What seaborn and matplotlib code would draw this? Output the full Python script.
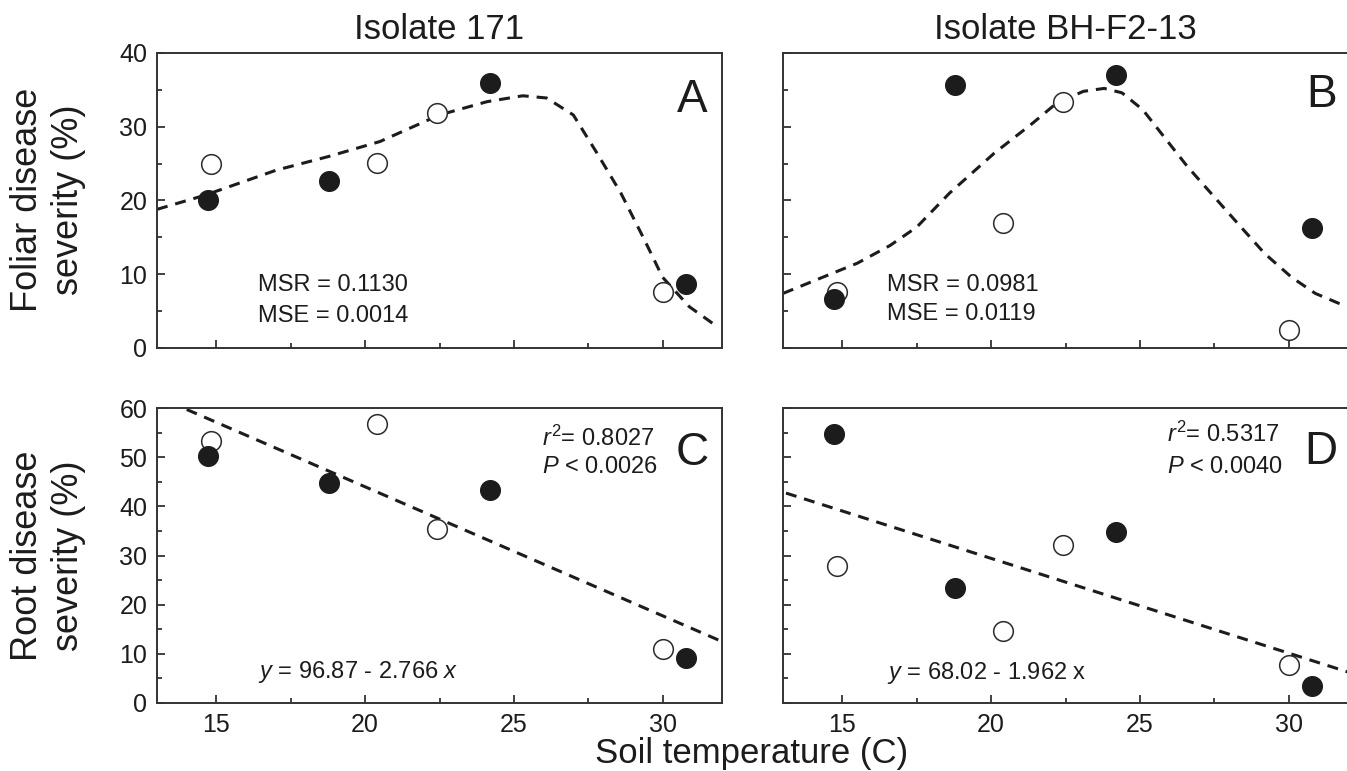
import numpy as np
import pandas as pd
import matplotlib.pyplot as plt
from matplotlib.ticker import MultipleLocator
import seaborn as sns

sns.set_style('ticks')
plt.rcParams['font.family'] = ['Liberation Sans', 'DejaVu Sans']
plt.rcParams['mathtext.fontset'] = 'custom'
plt.rcParams['mathtext.rm'] = 'Liberation Sans'
plt.rcParams['mathtext.it'] = 'Liberation Sans:italic'

# soil temperatures (C) for the two symbol series
temp_filled = [14.7, 18.8, 24.2, 30.8]
temp_open = [14.8, 20.4, 22.4, 30.0]

# foliar disease severity (%)
foliar_171_filled = [20.0, 22.7, 36.0, 8.7]
foliar_171_open = [24.9, 25.1, 31.8, 7.6]
foliar_bh_filled = [6.7, 35.6, 37.0, 16.3]
foliar_bh_open = [7.6, 16.9, 33.4, 2.4]

# root disease severity (%)
root_171_filled = [50.3, 44.7, 43.4, 9.2]
root_171_open = [53.3, 56.7, 35.3, 11.0]
root_bh_filled = [54.8, 23.4, 34.7, 3.4]
root_bh_open = [27.9, 14.6, 32.1, 7.7]

# fitted curves
fit_a_x = [13.0, 14.6, 17.0, 18.8, 20.5, 22.5, 24.1, 25.3, 26.1, 27.0, 27.8, 28.6, 29.4, 30.0, 30.9, 31.7]
fit_a_y = [18.8, 20.7, 24.1, 26.0, 28.0, 31.6, 33.4, 34.2, 33.9, 31.6, 26.4, 21.0, 14.6, 9.6, 5.6, 3.3]
fit_b_x = [13.0, 14.4, 15.5, 16.6, 17.5, 18.6, 20.1, 21.4, 22.2, 23.1, 23.8, 24.4, 25.1, 25.8, 26.6, 27.5, 28.4, 29.2, 30.1, 30.9, 31.9]
fit_b_y = [7.4, 9.7, 11.5, 13.9, 16.4, 21.0, 26.4, 30.5, 33.2, 34.8, 35.2, 34.6, 32.3, 28.7, 24.6, 20.5, 16.4, 12.8, 9.6, 7.4, 5.7]
fit_c_x = [14.0, 32.0]
fit_c_y = [59.7, 12.5]
fit_d_x = [13.1, 32.0]
fit_d_y = [42.7, 6.3]

ink = '#1c1c1c'

fig = plt.figure(figsize=(13.47, 7.71), dpi=100)
W, H = 1347, 771


def make_ax(left, top, right, bottom):
    return fig.add_axes([left / W, 1 - bottom / H, (right - left) / W, (bottom - top) / H])


ax_a = make_ax(157, 53, 722, 348)
ax_b = make_ax(783, 53, 1348, 348)
ax_c = make_ax(157, 408, 722, 703)
ax_d = make_ax(783, 408, 1348, 703)


def panel(ax, filled, opened, fx, fy, ymax, letter, letter_xy):
    sns.lineplot(x=fx, y=fy, ax=ax, color=ink, linewidth=2.2,
                 linestyle=(0, (3.6, 2.6)), errorbar=None, zorder=2)
    df_f = pd.DataFrame({'temp': temp_filled, 'sev': filled})
    df_o = pd.DataFrame({'temp': temp_open, 'sev': opened})
    sns.scatterplot(data=df_o, x='temp', y='sev', ax=ax, s=200, color='white',
                    edgecolor='#2a2a2a', linewidth=1.1, zorder=3)
    sns.scatterplot(data=df_f, x='temp', y='sev', ax=ax, s=200, color=ink,
                    edgecolor=ink, linewidth=1.0, zorder=4)
    ax.set_xlim(13, 32)
    ax.set_ylim(0, ymax)
    ax.set_xticks([15, 20, 25, 30])
    ax.xaxis.set_minor_locator(MultipleLocator(2.5))
    ax.set_yticks(np.arange(0, ymax + 1, 10))
    ax.yaxis.set_minor_locator(MultipleLocator(5))
    ax.tick_params(which='both', direction='in', top=False, right=False,
                   width=1.3, color='#333333', labelsize=18, labelcolor=ink, pad=7)
    ax.tick_params(which='major', length=6)
    ax.tick_params(which='minor', length=3.5)
    for sp in ax.spines.values():
        sp.set_linewidth(1.4)
        sp.set_color('#333333')
    ax.set_xlabel('')
    ax.set_ylabel('')
    ax.text(letter_xy[0], letter_xy[1], letter, fontsize=33, color=ink,
            ha='center', va='center')


panel(ax_a, foliar_171_filled, foliar_171_open, fit_a_x, fit_a_y, 40, 'A', (31.0, 33.6))
panel(ax_b, foliar_bh_filled, foliar_bh_open, fit_b_x, fit_b_y, 40, 'B', (31.1, 34.3))
panel(ax_c, root_171_filled, root_171_open, fit_c_x, fit_c_y, 60, 'C', (31.0, 50.8))
panel(ax_d, root_bh_filled, root_bh_open, fit_d_x, fit_d_y, 60, 'D', (31.1, 51.0))

for ax in (ax_a, ax_b):
    ax.tick_params(labelbottom=False)
for ax in (ax_b, ax_d):
    ax.tick_params(labelleft=False)

note = dict(fontsize=17, color=ink, ha='left', va='center')
ax_a.text(16.4, 8.5, 'MSR = 0.1130', **note)
ax_a.text(16.4, 4.4, 'MSE = 0.0014', **note)
ax_b.text(16.5, 8.5, 'MSR = 0.0981', **note)
ax_b.text(16.5, 4.6, 'MSE = 0.0119', **note)
ax_c.text(25.95, 53.9, r'$r^2$= 0.8027', **note)
ax_c.text(25.95, 48.1, r'$P$ < 0.0026', **note)
ax_c.text(16.4, 6.4, r'$y$ = 96.87 - 2.766 $x$', **note)
ax_d.text(25.9, 54.6, r'$r^2$= 0.5317', **note)
ax_d.text(25.9, 48.1, r'$P$ < 0.0040', **note)
ax_d.text(16.5, 6.1, r'$y$ = 68.02 - 1.962 x', **note)

ax_a.set_title('Isolate 171', fontsize=25, color=ink, pad=10)
ax_b.set_title('Isolate BH-F2-13', fontsize=25, color=ink, pad=10)

fig.text(48 / W, 1 - 200 / H, 'Foliar disease\nseverity (%)', rotation=90,
         fontsize=26, color=ink, ha='center', va='center', linespacing=1.2)
fig.text(48 / W, 1 - 556 / H, 'Root disease\nseverity (%)', rotation=90,
         fontsize=26, color=ink, ha='center', va='center', linespacing=1.2)
fig.text(752 / W, 8 / H, 'Soil temperature (C)', fontsize=25, color=ink,
         ha='center', va='baseline')

fig.savefig('out.png', dpi=100)
